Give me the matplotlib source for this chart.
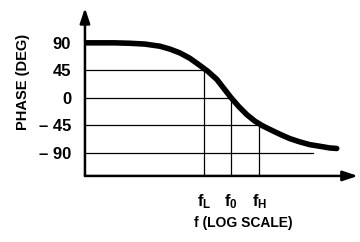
import matplotlib
matplotlib.use('Agg')
import matplotlib.pyplot as plt
from matplotlib.ticker import NullLocator

plt.rcParams['font.family'] = ['Liberation Sans', 'DejaVu Sans']
plt.rcParams['font.weight'] = 'bold'
plt.rcParams['mathtext.fontset'] = 'custom'
plt.rcParams['mathtext.rm'] = 'Liberation Sans:bold'

# phase curve (f relative to f0, phase in degrees)
freq = [0.022, 0.0325, 0.048, 0.071, 0.105, 0.156, 0.203, 0.263, 0.342,
        0.444, 0.548, 0.693, 0.833, 1.0, 1.23, 1.52, 1.87, 2.31, 2.92,
        3.6, 4.68, 6.08, 7.9, 10.3, 13.3, 16.0]
phase = [90, 90, 90, 89.3, 88, 84.5, 79.8, 73.6, 64.8,
         53.2, 43.4, 30.3, 15.5, 0.8, -14.1, -27.4, -37.9, -45.9, -53.1,
         -59.4, -66.6, -72, -76.5, -79.2, -81.9, -82.8]

# grid levels and where each one stops
levels = [45, 0, -45, -90]
level_ends = [0.5, 1.0, 2.1, 8.6]
ytick_vals = [90, 45, 0, -45, -90]
ytick_labels = ['90', '45', '0', '\u2013 45', '\u2013 90']

# marked frequencies
f_marks = [0.5, 1.0, 2.1]
f_labels = [r'$\mathregular{f_L}$', r'$\mathregular{f_0}$', r'$\mathregular{f_H}$']
f_tops = [45, 0, -45]

fig = plt.figure(figsize=(3.6, 2.42), dpi=100)
ax = fig.add_axes([0.236, 0.273, 0.758, 0.694])
ax.set_xscale('log')
ax.set_xlim(0.022, 27.8)
ax.set_ylim(-127.7, 147)

for lev, end in zip(levels, level_ends):
    ax.plot([0.022, end], [lev, lev], color='black', lw=0.9)
for fm, top in zip(f_marks, f_tops):
    ax.plot([fm, fm], [-127.7, top], color='black', lw=0.9)

ax.plot(freq, phase, color='black', lw=4, solid_capstyle='round',
        solid_joinstyle='round')

for s in ax.spines.values():
    s.set_visible(False)
arrow = dict(arrowstyle='-|>,head_length=0.9,head_width=0.3', lw=1.8,
             color='black', shrinkA=0, shrinkB=0)
ax.annotate('', xy=(0, 1), xytext=(0, 0), xycoords='axes fraction',
            arrowprops=arrow, annotation_clip=False)
ax.annotate('', xy=(1, 0), xytext=(0, 0), xycoords='axes fraction',
            arrowprops=arrow, annotation_clip=False)

ax.set_yticks(ytick_vals)
ax.set_yticklabels(ytick_labels, fontsize=12, fontweight='bold')
ax.set_xticks(f_marks)
ax.set_xticklabels(f_labels, fontsize=12)
ax.xaxis.set_minor_locator(NullLocator())
ax.tick_params(axis='y', length=0, pad=10)
ax.tick_params(axis='x', length=0, pad=12)

ax.set_ylabel('PHASE (DEG)', fontsize=10.5, fontweight='bold', labelpad=7)
ax.yaxis.set_label_coords(-0.2, 0.56)
ax.set_xlabel('f (LOG SCALE)', fontsize=10, fontweight='bold')
ax.xaxis.set_label_coords(0.579, -0.24)

fig.savefig('out.png', dpi=100)
